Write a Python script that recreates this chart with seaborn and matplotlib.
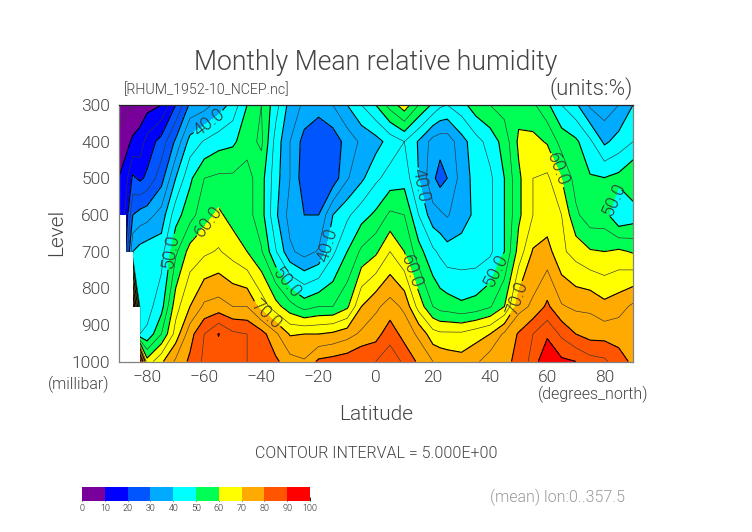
import numpy as np
import matplotlib
matplotlib.use("Agg")
import matplotlib.pyplot as plt
from matplotlib.colors import ListedColormap, BoundaryNorm
import seaborn as sns

lats = [-90, -87.5, -85, -82.5, -80, -75, -70, -65, -60, -55, -50, -45, -40, -35, -30, -25, -20,
        -15, -10, -5, 0, 5, 10, 15, 20, 22.5, 25, 30, 35, 40, 45, 50, 55, 60, 65, 70, 75, 80, 85, 90]
levels = [300, 400, 500, 600, 700, 850, 925, 1000]
rh_300 = [3, 4, 5, 7, 8, 10, 20, 31, 33, 37, 42, 50, 55, 47, 38, 34, 32, 35, 40, 45, 50, 57, 63, 55, 49, 46, 45, 48, 53, 55, 57, 58, 56, 51, 45, 41, 34, 32, 35, 40]
rh_400 = [6, 8, 11, 12, 17, 22, 31, 42, 45.5, 48, 49, 53, 56, 43, 35, 28, 26, 27, 32, 36, 38, 42, 45, 39.5, 33, 32, 32, 38, 43, 47, 52, 61, 61.5, 59.5, 53, 51, 46, 39, 42, 45]
rh_500 = [10, 13, 21, 19, 21, 28, 40, 49, 55, 56, 56, 57, 52, 42, 35, 27, 26, 27, 34.5, 39, 44, 47, 48, 40, 31, 28, 30, 37, 42, 44, 50, 59, 65, 66, 60, 53, 50.5, 50.2, 51.5, 55]
rh_600 = [12, 16, 30, 32, 33, 37, 48, 53, 58, 61, 58, 57, 52, 41, 33, 30, 30, 40, 44, 48, 51, 56, 55, 45, 37, 36, 34.5, 38, 41, 44, 50, 59, 65, 67, 65, 56, 52, 52, 45, 47]
rh_700 = [20, 20, 40, 42, 43, 43, 54, 62, 64, 65.5, 63, 60, 55.5, 45.5, 36, 33, 35.5, 44, 50, 56, 59, 65, 60, 52, 46, 44, 42, 42, 42, 44, 50, 62, 70.5, 72, 66, 63, 60.5, 60, 61, 59.5]
rh_850 = [20, 20, 92, 45, 43, 48, 63, 70, 76, 77, 75, 75, 68, 62, 57, 53, 55, 55, 59, 70, 74, 77, 74, 63, 55, 53, 52.5, 51, 52, 54.5, 60, 73, 76, 81, 75.5, 74, 74, 71.5, 73, 76]
rh_925 = [20, 20, 92, 45, 46, 55, 67, 78, 85, 90.2, 86, 85, 82, 76, 69.5, 70, 70, 71, 73, 76, 78, 83, 78, 74, 67, 66, 66, 66, 68, 70, 76, 80.5, 85, 89, 84, 80, 78, 78, 78, 80]
rh_1000 = [20, 20, 92, 92, 62, 69, 76, 81, 86, 88, 88, 85, 82, 81, 77, 75.5, 81, 82, 83, 85, 85, 88, 84, 79, 75, 74, 73, 72, 74, 78, 79, 81, 87, 95, 91, 90, 87, 86, 82, 79]
field = np.array([rh_300, rh_400, rh_500, rh_600, rh_700, rh_850, rh_925, rh_1000], dtype=float)

no_data_lat = [-90, -87.5, -85, -82.5]
no_data_top = [600, 700, 850, 850]

band_edges = [0, 10, 20, 30, 40, 50, 60, 70, 80, 90, 100]
band_colors = ["#7a009c", "#0000ff", "#0055ff", "#00aaff", "#00ffff",
               "#00ff55", "#ffff00", "#ffaa00", "#ff5500", "#ff0000"]
thin_levels = [5, 15, 25, 35, 45, 55, 65, 75, 85, 95]
bold_levels = [10, 20, 30, 40, 50, 60, 70, 80, 90]
x_ticks = [-80, -60, -40, -20, 0, 20, 40, 60, 80]
y_ticks = [300, 400, 500, 600, 700, 800, 900, 1000]

label_spots = [(-59, 341), (-16.6, 683), (16, 519),
               (-72, 700), (-31, 783), (40.8, 747), (81.5, 553),
               (-59, 615), (12, 756), (63.5, 478),
               (-38, 870), (49.5, 828)]

sns.set_theme(style="ticks")
plt.rcParams["font.family"] = ["Roboto", "Liberation Sans", "DejaVu Sans"]
plt.rcParams["font.weight"] = 300
plt.rcParams["axes.unicode_minus"] = True

W, H = 752, 532
fig = plt.figure(figsize=(W / 100, H / 100), dpi=100, facecolor="white")
ax = fig.add_axes([118.5 / W, 1 - 361.5 / H, (633 - 118.5) / W, (361.5 - 105) / H])

cmap = ListedColormap(band_colors)
norm = BoundaryNorm(band_edges, cmap.N)
ax.contourf(lats, levels, field, levels=band_edges, cmap=cmap, norm=norm)
ax.contour(lats, levels, field, levels=thin_levels, colors="#333333", linewidths=0.45)
cs = ax.contour(lats, levels, field, levels=bold_levels, colors="black", linewidths=0.8)
ax.fill_between(no_data_lat, no_data_top, 1000, step="post", color="white", lw=0, zorder=3)

ax.set_xlim(-90, 90)
ax.set_ylim(1000, 300)

texts = ax.clabel(cs, fmt="%.1f", manual=label_spots, fontsize=13, inline=True, inline_spacing=1)
for t in texts:
    t.set_color("#333333")

ax.set_xticks(x_ticks)
ax.set_yticks(y_ticks)
ax.set_xticks(np.arange(-90, 91, 10), minor=True)
ax.set_yticks(np.arange(300, 1001, 50), minor=True)
ax.set_xticklabels(["\u2212" + str(-v) if v < 0 else str(v) for v in x_ticks])
ax.tick_params(which="major", direction="in", length=5, width=0.7, color="#222222",
               top=True, right=True, labelsize=12.5, labelcolor="#444444")
ax.tick_params(axis="x", which="major", pad=6)
ax.tick_params(axis="y", which="major", pad=6)
ax.tick_params(which="minor", direction="in", length=2.5, width=0.6, color="#222222", top=True, right=True)
for name, sp in ax.spines.items():
    sp.set_color("#222222" if name == "top" else "#808080")
    sp.set_linewidth(0.9)
    sp.set_zorder(5)


def put(x, y, s, size, color="#444444", ha="center", rotation=0):
    fig.text(x / W, 1 - y / H, s, fontsize=size, color=color, ha=ha, va="center", rotation=rotation)


put(376, 63, "Monthly Mean relative humidity", 19.2)
put(124, 90, "[RHUM_1952-10_NCEP.nc]", 10.3, ha="left")
put(633, 89, "(units:%)", 16, ha="right")
put(57, 232, "Level", 15, rotation=90)
put(79, 384, "(millibar)", 11.5)
put(376, 415, "Latitude", 15)
put(593, 394, "(degrees_north)", 11.5)
put(376, 454, "CONTOUR INTERVAL = 5.000E+00", 11.5)
put(557, 497, "(mean) lon:0..357.5", 11.5, color="#999999")

cax = fig.add_axes([82 / W, 1 - 501 / H, (310 - 82) / W, 14 / H])
mids = (np.array(band_edges[:-1]) + np.array(band_edges[1:])) / 2
sns.heatmap(mids.reshape(1, -1), ax=cax, cmap=cmap, norm=norm, cbar=False, xticklabels=False, yticklabels=False)
cax.set_xticks(np.arange(len(band_edges)))
cax.set_xticklabels([str(v) for v in band_edges], rotation=0)
cax.tick_params(axis="x", direction="in", length=3, width=0.7, color="#222222",
                labelsize=6.5, labelcolor="#222222", pad=2)
cax.tick_params(axis="y", length=0)

fig.savefig("out.png", dpi=100, facecolor="white")
